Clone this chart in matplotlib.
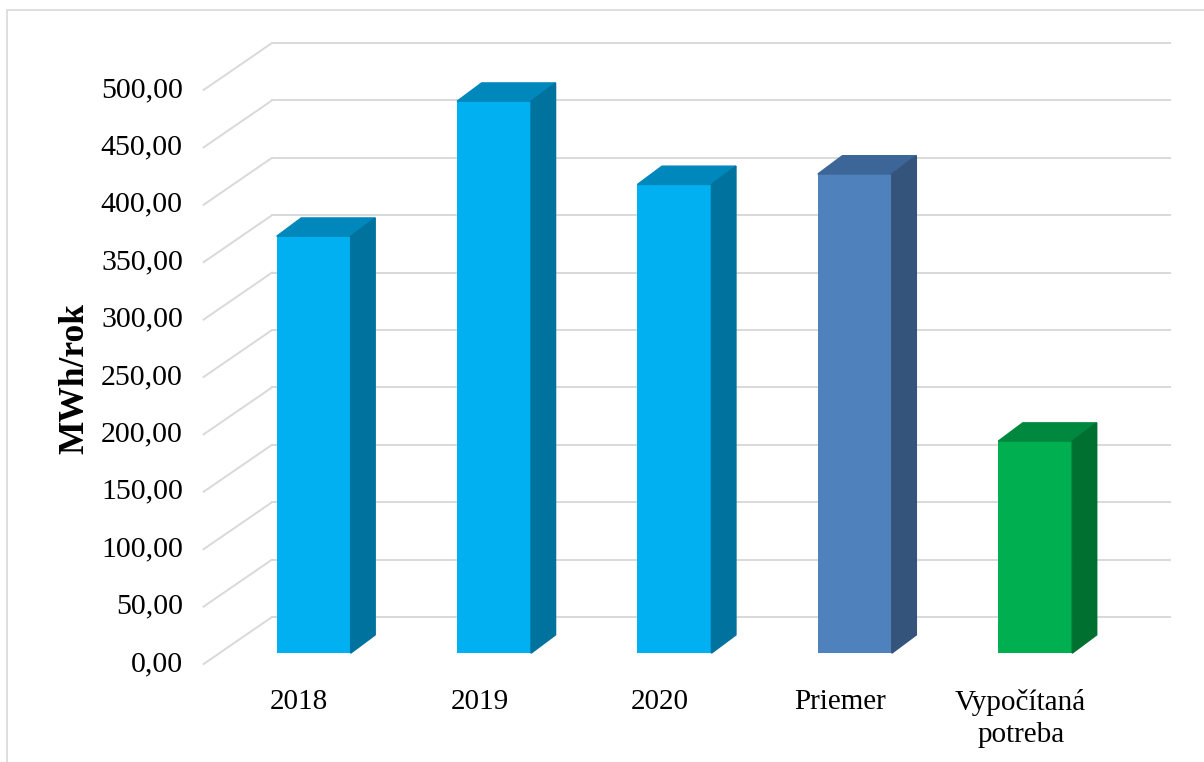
import matplotlib
matplotlib.use('Agg')
import matplotlib.pyplot as plt
from matplotlib.patches import Polygon, Rectangle

plt.rcParams['font.family'] = ['Liberation Serif', 'DejaVu Serif']

categories = ['2018', '2019', '2020', 'Priemer', 'Vypočítaná\npotreba']
values = [363.2, 480.8, 408.3, 417.4, 184.7]
front_colors = ['#00B0F0', '#00B0F0', '#00B0F0', '#4F81BD', '#00B050']
top_colors = ['#0088BC', '#0088BC', '#0088BC', '#3C6698', '#00893E']
side_colors = ['#00729E', '#00729E', '#00729E', '#34547C', '#007030']
yticks = list(range(0, 501, 50))

# pseudo 3D geometry (category units / value units)
dx, dy = 0.349, 40.9          # full floor depth
f0, f1 = 0.23, 0.62           # bar front/back depth fractions
width = 0.41

fig = plt.figure(figsize=(12.04, 7.62), dpi=100)
ax = fig.add_axes([0.1661, 0.1286, 0.8165, 0.8211])
ax.set_xlim(-0.55, 4.9)
ax.set_ylim(0, 545)
ax.axis('off')

# figure border (only left and top edges are visible)
fig.add_artist(Rectangle((7/1204, -0.05), 1.1, 1.05 - 10/762,
                         transform=fig.transFigure, fill=False,
                         edgecolor='#D9D9D9', lw=1.2))

# gridlines (front diagonal + back wall)
for v in yticks:
    ax.plot([-0.53, -0.5 + dx], [v, v + dy], color='#D9D9D9', lw=1.4,
            zorder=1, clip_on=False)
    ax.plot([-0.5 + dx, 4.48 + dx], [v + dy, v + dy], color='#D9D9D9',
            lw=1.4, zorder=1, clip_on=False)
    ax.text(-0.645, v, f'{v:.2f}'.replace('.', ','), ha='right', va='center',
            fontsize=21.5)

fx, fy = f0 * dx, f0 * dy
bx, by = (f1 - f0) * dx, (f1 - f0) * dy
for i, v in enumerate(values):
    l = i + fx - width / 2
    r = i + fx + width / 2
    ax.bar(i + fx, v, width, bottom=fy, color=front_colors[i], zorder=3)
    top = [(l, fy + v), (r, fy + v), (r + bx, fy + v + by), (l + bx, fy + v + by)]
    side = [(r, fy), (r + bx, fy + by), (r + bx, fy + v + by), (r, fy + v)]
    ax.add_patch(Polygon(top, closed=True, color=top_colors[i], zorder=3))
    ax.add_patch(Polygon(side, closed=True, color=side_colors[i], zorder=3))
    ax.text(i, -22, categories[i], ha='center', va='top', fontsize=21,
            linespacing=1.3)

fig.text(75/1204, 1 - 379/762, 'MWh/rok', rotation=90, ha='center',
         va='center', fontsize=25.5, fontweight='bold')

plt.savefig('out.png', dpi=100)
